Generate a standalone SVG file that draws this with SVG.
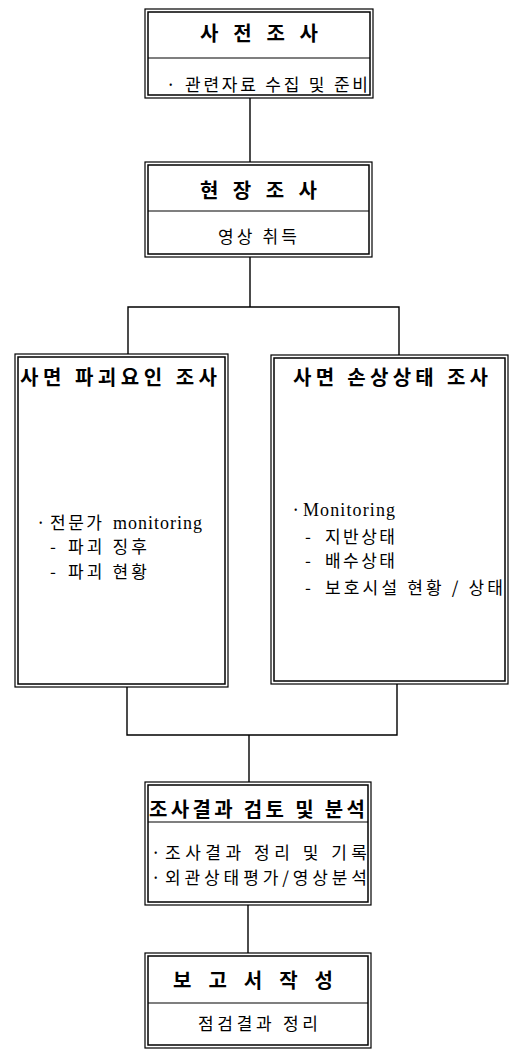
<svg xmlns="http://www.w3.org/2000/svg" width="510" height="1050" viewBox="0 0 510 1050">
<style>
.o{fill:#fff;stroke:#000;stroke-width:1.2}
.i{fill:none;stroke:#000;stroke-width:1.5}
.d{stroke:#000;stroke-width:1.2}
.c{fill:none;stroke:#000;stroke-width:1.4}
.t{font-family:"Noto Sans CJK KR","Noto Sans",sans-serif;font-weight:700;font-size:20px;fill:#000}
.s{font-family:"Noto Sans CJK KR","Noto Sans",sans-serif;font-weight:400;font-size:17px;fill:#000}
.r{font-family:"Liberation Serif",serif;font-size:18px;fill:#000}
</style>
<rect width="510" height="1050" fill="#fff"/>
<g id="connectors">
<path class="c" d="M250 98V162"/>
<path class="c" d="M250 257V307M128 355V307H399V355"/>
<path class="c" d="M127 687V735H397V684M249 735V782"/>
<path class="c" d="M248 905V953"/>
</g>
<g id="n1">
<rect class="o" x="145" y="9" width="228" height="89"/>
<rect class="i" x="148" y="12" width="222" height="83"/>
<line class="d" x1="148" y1="58" x2="370" y2="58"/>
<text class="t" x="200" y="41" textLength="118" lengthAdjust="spacing">사 전 조 사</text>
<text class="s" x="166" y="91" textLength="202" lengthAdjust="spacing">· 관련자료 수집 및 준비</text>
</g>
<g id="n2">
<rect class="o" x="145" y="162" width="227" height="95"/>
<rect class="i" x="148" y="165" width="221" height="89"/>
<line class="d" x1="148" y1="211" x2="369" y2="211"/>
<text class="t" x="200" y="198" textLength="117" lengthAdjust="spacing">현 장 조 사</text>
<text class="s" x="218" y="243" textLength="79" lengthAdjust="spacing">영상 취득</text>
</g>
<g id="n3">
<rect class="o" x="15" y="354" width="213" height="333"/>
<rect class="i" x="18" y="357" width="207" height="327"/>
<text class="t" x="20" y="385" textLength="197" lengthAdjust="spacing">사면 파괴요인 조사</text>
<text class="s" x="36" y="529">·</text>
<text class="s" x="50" y="529" textLength="52" lengthAdjust="spacing">전문가</text>
<text class="r" x="113" y="529" textLength="89" lengthAdjust="spacing">monitoring</text>
<text class="s" x="50" y="553">-</text>
<text class="s" x="68" y="553" textLength="79" lengthAdjust="spacing">파괴 징후</text>
<text class="s" x="50" y="578">-</text>
<text class="s" x="68" y="578" textLength="79" lengthAdjust="spacing">파괴 현황</text>
</g>
<g id="n4">
<rect class="o" x="271" y="355" width="237" height="329"/>
<rect class="i" x="274" y="358" width="231" height="323"/>
<text class="t" x="293" y="385" textLength="195" lengthAdjust="spacing">사면 손상상태 조사</text>
<text class="s" x="291" y="516">·</text>
<text class="r" x="303" y="516" textLength="92" lengthAdjust="spacing">Monitoring</text>
<text class="s" x="305" y="543">-</text>
<text class="s" x="325" y="543" textLength="70" lengthAdjust="spacing">지반상태</text>
<text class="s" x="305" y="567">-</text>
<text class="s" x="325" y="567" textLength="70" lengthAdjust="spacing">배수상태</text>
<text class="s" x="305" y="594">-</text>
<text class="s" x="325" y="594" textLength="178" lengthAdjust="spacing">보호시설 현황 / 상태</text>
</g>
<g id="n5">
<rect class="o" x="145" y="782" width="226" height="123"/>
<rect class="i" x="148" y="785" width="220" height="117"/>
<line class="d" x1="148" y1="822" x2="368" y2="822"/>
<text class="t" x="149" y="817" textLength="216" lengthAdjust="spacing">조사결과 검토 및 분석</text>
<text class="s" x="151" y="859">·</text>
<text class="s" x="165" y="859" textLength="202" lengthAdjust="spacing">조사결과 정리 및 기록</text>
<text class="s" x="151" y="884">·</text>
<text class="s" x="165" y="884" textLength="202" lengthAdjust="spacing">외관상태평가/영상분석</text>
</g>
<g id="n6">
<rect class="o" x="145" y="953" width="226" height="95"/>
<rect class="i" x="148" y="956" width="220" height="89"/>
<line class="d" x1="148" y1="1003" x2="368" y2="1003"/>
<text class="t" x="173" y="988" textLength="160" lengthAdjust="spacing">보 고 서 작 성</text>
<text class="s" x="198" y="1030" textLength="120" lengthAdjust="spacing">점검결과 정리</text>
</g>
</svg>
